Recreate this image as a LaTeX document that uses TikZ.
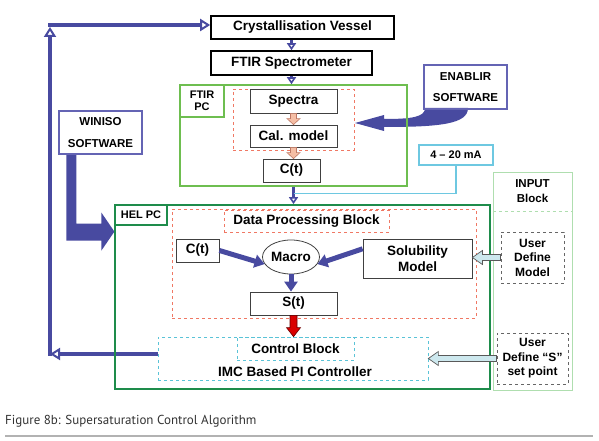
\documentclass[tikz,border=0pt]{standalone}
\usepackage{fontspec}
\setmainfont{Liberation Sans}
\newfontfamily\capfont{PT Sans}
\usepackage{tikz}
\usetikzlibrary{arrows.meta,calc,shapes.geometric}
\definecolor{navy}{RGB}{72,74,160}
\definecolor{softblue}{RGB}{100,100,180}
\definecolor{ftirgreen}{RGB}{110,190,80}
\definecolor{helgreen}{RGB}{30,140,75}
\definecolor{inputgreen}{RGB}{175,222,175}
\definecolor{salmon}{RGB}{240,120,100}
\definecolor{cyandash}{RGB}{90,195,215}
\definecolor{macyan}{RGB}{110,200,225}
\definecolor{peachf}{RGB}{245,190,165}
\definecolor{peachd}{RGB}{190,120,100}
\definecolor{cyanf}{RGB}{205,232,238}
\newcommand{\bigf}{\fontsize{13.5}{15.5}\selectfont\bfseries}
\newcommand{\smf}{\fontsize{11}{12.5}\selectfont\bfseries}
% block arrows: style, from, to, shaft half width, head half width, head length
\newcommand{\downblock}[6]{\path[#1] let \p1=(#2), \p2=(#3) in
  (\x1-#4,\y1) -- (\x1-#4,\y2+#6) -- (\x1-#5,\y2+#6) -- (\x1,\y2)
  -- (\x1+#5,\y2+#6) -- (\x1+#4,\y2+#6) -- (\x1+#4,\y1) -- cycle;}
\newcommand{\leftblock}[6]{\path[#1] let \p1=(#2), \p2=(#3) in
  (\x1,\y1-#4) -- (\x2+#6,\y1-#4) -- (\x2+#6,\y1-#5) -- (\x2,\y1)
  -- (\x2+#6,\y1+#5) -- (\x2+#6,\y1+#4) -- (\x1,\y1+#4) -- cycle;}
\pgfdeclarelayer{bg}
\pgfsetlayers{bg,main}

\begin{document}
\begin{tikzpicture}[x=1pt,y=-1pt,
  blk/.style={draw=black, line width=1.6pt, font=\bigf, inner sep=0pt},
  inbox/.style={draw=black!75, line width=0.8pt, fill=white, font=\bigf, inner sep=0pt},
  soft/.style={draw=softblue, line width=1.2pt, font=\fontsize{11.5}{13}\selectfont\bfseries, align=center, inner sep=0pt},
  zone/.style={draw=salmon, dashed, line width=0.7pt, inner sep=0pt},
  czone/.style={draw=cyandash, dashed, line width=0.7pt, inner sep=0pt},
  udbox/.style={draw=black!60, dashed, line width=0.9pt, font=\fontsize{12}{14.5}\selectfont\bfseries, align=center, inner sep=0pt},
  lab/.style={line width=1.2pt, font=\smf, align=center, inner sep=0pt},
  fat/.style={draw=navy, line width=5pt, -{Triangle[width=13pt,length=10pt]}},
  feed/.style={draw=navy, line width=3.5pt, -{Triangle[open,line width=2pt,width=12pt,length=10pt]}},
  feedsm/.style={draw=navy, line width=2.6pt, -{Triangle[open,line width=1.6pt,width=9pt,length=7pt]}},
  peach/.style={fill=peachf, draw=peachd, line width=0.6pt},
  redarr/.style={fill=red!85!black, draw=red!40!black, line width=0.6pt},
  cyarr/.style={fill=cyanf, draw=black!65, line width=0.7pt}]
  \useasboundingbox (0,0) rectangle (599,441);

  % top chain
  \node[blk, minimum width=183pt, minimum height=23pt] (vessel) at (302.5,27.5) {Crystallisation Vessel};
  \node[blk, minimum width=161pt, minimum height=24pt] (spectro) at (291.5,63) {FTIR Spectrometer};

  % FTIR PC
  \node[draw=ftirgreen, line width=1.6pt, minimum width=227pt, minimum height=101pt] (ftirpc) at (293.5,135.5) {};
  \node[lab, draw=ftirgreen, minimum width=44pt, minimum height=32pt] (ftirlab) at (202,101) {FTIR\\PC};
  \node[zone, minimum width=121pt, minimum height=61pt] (calzone) at (293.5,119.5) {};
  \node[inbox, minimum width=87pt, minimum height=24pt] (spectra) at (293.5,101) {Spectra};
  \node[inbox, minimum width=87pt, minimum height=22pt] (calmodel) at (293.5,136) {Cal. model};
  \node[inbox, minimum width=57pt, minimum height=23pt] (cft) at (291.5,170.5) {C(t)};

  \node[soft, minimum width=83pt, minimum height=44pt] (enablir) at (465.5,87) {ENABLIR\\[8pt]SOFTWARE};
  \node[soft, minimum width=83pt, minimum height=43pt] (winiso) at (100.5,132.5) {WINISO\\[9pt]SOFTWARE};
  \node[lab, draw=macyan, line width=1.4pt, minimum width=74pt, minimum height=20pt] (ma) at (456,155) {4 – 20 mA};

  % input block
  \node[draw=inputgreen, line width=0.9pt, minimum width=79pt, minimum height=218pt] (input) at (532.5,281) {};
  \node[font=\fontsize{11.5}{15}\selectfont\bfseries, align=center] (inputlab) at (532.5,191) {INPUT\\Block};
  \draw[inputgreen, dashed, line width=0.9pt] (input.west |- 0,211) -- (input.east |- 0,211);
  \node[udbox, minimum width=63pt, minimum height=51pt] (udmodel) at (532.5,257.5) {User\\Define\\Model};
  \node[udbox, minimum width=71pt, minimum height=51pt] (udset) at (532.5,358.5) {User\\Define “S”\\set point};

  % HEL PC
  \node[draw=helgreen, line width=1.8pt, minimum width=375pt, minimum height=184pt] (helpc) at (302.5,297) {};
  \node[lab, draw=helgreen, minimum width=52pt, minimum height=20pt] (hellab) at (141,215) {HEL PC};
  \node[zone, minimum width=304pt, minimum height=109pt] (dpzone) at (324,263.5) {};
  \node[zone, font=\bigf, minimum width=165pt, minimum height=22pt] (dplab) at (306.5,221) {Data Processing Block};
  \node[inbox, minimum width=43pt, minimum height=23pt] (cth) at (197.5,250.5) {C(t)};
  \node[ellipse, draw=black!75, line width=0.8pt, font=\bigf, minimum width=57pt, minimum height=34pt, inner sep=0pt] (macro) at (291,257) {Macro};
  \node[inbox, align=center, minimum width=109pt, minimum height=39pt] (solub) at (417.5,258.5) {Solubility\\Model};
  \node[inbox, minimum width=87pt, minimum height=23pt] (st) at (293.5,303.5) {S(t)};
  \node[czone, minimum width=270pt, minimum height=43pt] (ctrlzone) at (293,358.5) {};
  \node[czone, font=\bigf, minimum width=117pt, minimum height=23pt] (ctrllab) at (295.5,348.5) {Control Block};
  \node[font=\bigf, inner sep=0pt] (imc) at (295,372) {IMC Based PI Controller};

  % connectors
  \draw[feedsm] (spectro.north |- vessel.south) -- (spectro.north);
  \draw[feedsm] (spectro.south) -- (spectro.south |- ftirpc.north);
  \draw[feedsm] (ftirpc.south) -- (ftirpc.south |- helpc.north);
  \draw[macyan, line width=1.2pt] (ma.south) |- ($(ftirpc.south)+(0,7)$);
  \downblock{peach}{spectra.south}{calmodel.north}{3pt}{6.5pt}{6pt}
  \downblock{peach}{calmodel.south}{cft.north}{3pt}{6.5pt}{6pt}
  \downblock{redarr}{st.south}{st.south |- ctrllab.north}{3.5pt}{7pt}{9pt}
  \leftblock{cyarr}{udmodel.west}{solub.east}{3pt}{7pt}{10pt}
  \leftblock{cyarr}{udset.west}{ctrlzone.east}{3pt}{7pt}{10pt}
  \draw[fat] (cth.east) -- (macro.195);
  \draw[fat] (solub.170) -- (macro.-15);
  \draw[fat] (macro.south) -- (macro.south |- st.north);

  \begin{pgfonlayer}{bg}
    % software arrows
    \fill[navy] (425,108) -- (468,108) .. controls (468,124) and (440,127) .. (384,127)
      -- (384,131) -- (355,123) -- (384,115) -- (384,119)
      .. controls (412,119) and (425,117) .. (425,108) -- cycle;
    \fill[navy] ($(winiso.south west)+(8,0)$) -- ++(0,86) -- ++(35,0) -- ++(0,10)
      -- ++(13,-19) -- ++(-13,-19) -- ++(0,11) -- ++(-25,0) -- ++(0,-69) -- cycle;
    % feedback loop
    \coordinate (fbl) at (50,354);
    \coordinate (fbt) at (50,25);
    \draw[feed] (fbl -| ctrlzone.west) -- (fbl);
    \draw[feed] ($(fbl)+(0,1.75)$) -- ($(fbt)+(0,2)$);
    \draw[feed] ($(fbt)+(-1.75,0)$) -- (fbt -| vessel.west);
  \end{pgfonlayer}

  % caption
  \node[font=\capfont\fontsize{13}{15}\selectfont, text=black!80, anchor=west, inner sep=0pt] (cap) at (5,421) {Figure 8b: Supersaturation Control Algorithm};
  \draw[black!30, line width=1.5pt] (5,436) -- (593,436);
\end{tikzpicture}
\end{document}
